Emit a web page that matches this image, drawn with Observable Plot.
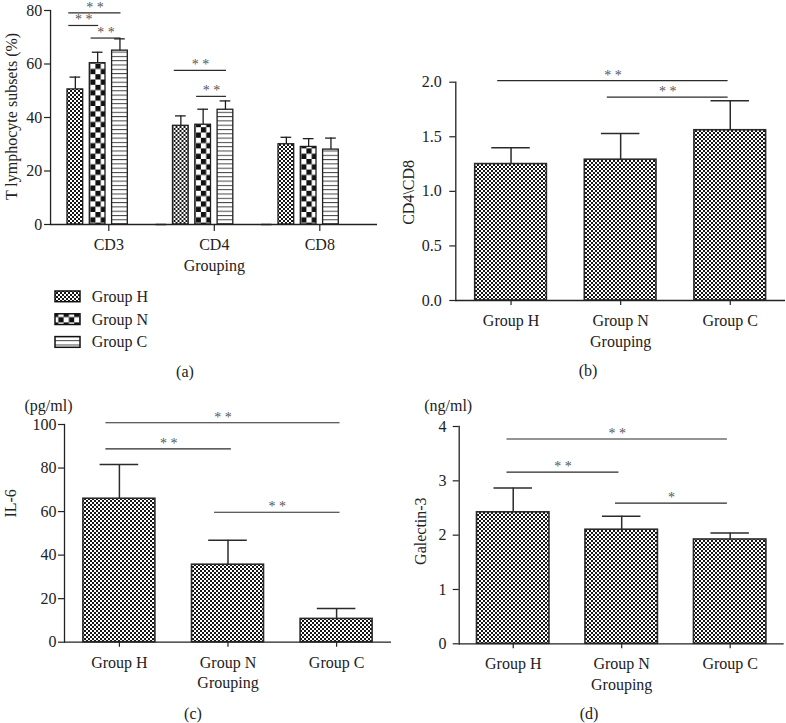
<!DOCTYPE html>
<html>
<head>
<meta charset="utf-8">
<script src="https://cdn.jsdelivr.net/npm/d3@7"></script>
<script src="https://cdn.jsdelivr.net/npm/@observablehq/plot@0.6"></script>
<style>
  body { margin: 0; background: #fff; }
  #root { position: relative; width: 786px; height: 723px; font-family: "Liberation Serif", serif; color: #222; overflow: hidden; }
  .panel { position: absolute; }
  .cap { position: absolute; font-size: 16px; line-height: 16px; transform: translateX(-50%); white-space: nowrap; }
</style>
</head>
<body>
<svg width="0" height="0" style="position:absolute">
  <defs>
    <pattern id="pH" width="4" height="4" patternUnits="userSpaceOnUse">
      <rect width="4" height="4" fill="#fff"/>
      <rect width="2" height="2" fill="#161616"/>
      <rect x="2" y="2" width="2" height="2" fill="#161616"/>
    </pattern>
    <pattern id="pN" width="10.6" height="10.6" patternUnits="userSpaceOnUse">
      <rect width="10.6" height="10.6" fill="#fff"/>
      <rect width="5.3" height="5.3" fill="#111"/>
      <rect x="5.3" y="5.3" width="5.3" height="5.3" fill="#111"/>
    </pattern>
    <pattern id="pC" width="4.3" height="4.3" patternUnits="userSpaceOnUse">
      <rect width="4.3" height="4.3" fill="#fff"/>
      <rect y="0" width="4.3" height="1" fill="#444"/>
    </pattern>
  </defs>
</svg>
<div id="root"></div>
<script>
// ---------------- data ----------------
const groups = ["Group H", "Group N", "Group C"];
const subsets = ["CD3", "CD4", "CD8"];

const cd3Mean = [50.5, 60.3, 65.0], cd3Sd = [4.6, 4.1, 4.4];
const cd4Mean = [36.9, 37.3, 42.9], cd4Sd = [3.7, 5.8, 3.3];
const cd8Mean = [30.0, 29.0, 28.0], cd8Sd = [2.6, 3.1, 4.3];

const ratioMean = [1.25, 1.29, 1.56], ratioSd = [0.15, 0.24, 0.27];
const il6Mean = [65.9, 35.6, 10.7], il6Sd = [15.7, 11.2, 4.8];
const galMean = [2.42, 2.10, 1.92], galSd = [0.45, 0.25, 0.12];

const tTicks = [0, 20, 40, 60, 80];
const ratioTicks = [0, 0.5, 1.0, 1.5, 2.0];
const il6Ticks = [0, 20, 40, 60, 80, 100];
const galTicks = [0, 1, 2, 3, 4];

const tBrackets = [
  {subset: "CD3", from: "Group H", to: "Group C", y: 79.1, sig: "**"},
  {subset: "CD3", from: "Group H", to: "Group N", y: 74.4, sig: "**"},
  {subset: "CD3", from: "Group N", to: "Group C", y: 69.7, sig: "**"},
  {subset: "CD4", from: "Group H", to: "Group C", y: 57.6, sig: "**"},
  {subset: "CD4", from: "Group N", to: "Group C", y: 47.9, sig: "**"}
];
const ratioBrackets = [
  {from: "Group H", to: "Group C", y: 2.015, sig: "**"},
  {from: "Group N", to: "Group C", y: 1.863, sig: "**"}
];
const il6Brackets = [
  {from: "Group H", to: "Group C", y: 100.8, sig: "**"},
  {from: "Group H", to: "Group N", y: 88.8, sig: "**"},
  {from: "Group N", to: "Group C", y: 59.7, sig: "**"}
];
const galBrackets = [
  {from: "Group H", to: "Group C", y: 3.77, sig: "**"},
  {from: "Group H", to: "Group N", y: 3.16, sig: "**"},
  {from: "Group N", to: "Group C", y: 2.59, sig: "*"}
];

const groupFills = ["url(#pH)", "url(#pN)", "url(#pC)"];

// ---------------- helpers ----------------
const INK = "#222";
const FONT = '"Liberation Serif", "Times New Roman", serif';
const root = document.getElementById("root");

function place(node, left, top) {
  const d = document.createElement("div");
  d.className = "panel";
  d.style.left = left + "px";
  d.style.top = top + "px";
  d.appendChild(node);
  root.appendChild(d);
}
function caption(text, cx, baseline) {
  const d = document.createElement("div");
  d.className = "cap";
  d.textContent = text;
  d.style.left = cx + "px";
  d.style.top = (baseline - 13.4) + "px";
  root.appendChild(d);
}
const starText = (d) => d.sig.split("").join(" ");
function starMarks(brackets, step, iL, iR, extra = {}) {
  return brackets.map((b) => Plot.text([b], {
    ...extra,
    x: "from", y: "y", text: starText,
    dx: ((groups.indexOf(b.to) - groups.indexOf(b.from)) * step + iL - iR) / 2,
    dy: -1, lineAnchor: "bottom", fontSize: 14, fill: "#555"
  }));
}
const svgStyle = {fontFamily: FONT, fontSize: "16px", color: INK, background: "transparent", overflow: "visible"};

// ---------------- panel (a) ----------------
const tMeans = [cd3Mean, cd4Mean, cd8Mean];
const tSds = [cd3Sd, cd4Sd, cd8Sd];
const tData = subsets.flatMap((s, i) => groups.map((g, j) => ({subset: s, group: g, mean: tMeans[i][j], sd: tSds[i][j]})));

{
  const W = 393, mL = 55.55, mR = 20.95;
  const pi = 0.296, po = 0.513;
  const slots = [...groups, " "];
  const facetW = (W - mL - mR) / subsets.length;
  const step = facetW / (slots.length - pi + 2 * po);
  const iL = 1.3, iR = 6.8;
  const chart = Plot.plot({
    width: W, height: 282,
    marginTop: 10, marginBottom: 58, marginLeft: mL, marginRight: mR,
    style: svgStyle,
    fx: {domain: subsets, paddingInner: 0, paddingOuter: 0, round: false, label: null},
    x: {domain: slots, paddingInner: pi, paddingOuter: po, round: false, axis: null},
    y: {domain: [0, 80], label: null},
    color: {domain: groups, range: groupFills},
    marks: [
      Plot.barY(tData, {fx: "subset", x: "group", y: "mean", fill: "group", stroke: "#1e1e1e", strokeWidth: 1.3}),
      Plot.ruleX(tData, {fx: "subset", x: "group", y1: "mean", y2: (d) => d.mean + d.sd, stroke: "#1e1e1e", strokeWidth: 1.3}),
      Plot.tickY(tData, {fx: "subset", x: "group", y: (d) => d.mean + d.sd, insetLeft: 2.5, insetRight: 2.5, stroke: "#1e1e1e", strokeWidth: 1.3}),
      Plot.ruleY([0], {insetLeft: -5.5, insetRight: -5, stroke: INK, strokeWidth: 1.3}),
      Plot.frame({anchor: "left", dx: -5.5, facetAnchor: "left", stroke: INK, strokeWidth: 1.3}),
      Plot.axisY({ticks: tTicks, tickSize: 6, tickPadding: 2.3, dx: -5.5, label: null, fontSize: 16, strokeWidth: 1.2}),
      Plot.axisFx({anchor: "bottom", tickSize: 7, tickPadding: 7, label: null, fontSize: 16, strokeWidth: 1.2}),
      Plot.ruleY(tBrackets, {fx: "subset", x1: "from", x2: "to", y: "y", insetLeft: iL, insetRight: iR, stroke: "#2a2a2a", strokeWidth: 1.2}),
      ...starMarks(tBrackets, step, iL, iR, {fx: "subset"}),
      Plot.text([{subset: "CD4", t: "Grouping"}], {fx: "subset", text: "t", frameAnchor: "bottom", dy: 46, lineAnchor: "bottom", fontSize: 16, fill: INK}),
      Plot.text([{subset: "CD3", t: "T lymphocyte subsets (%)"}], {fx: "subset", text: "t", frameAnchor: "left", rotate: -90, dx: -44.5, dy: -1, lineAnchor: "middle", textAnchor: "middle", fontSize: 16, fill: INK})
    ]
  });
  place(chart, 0, 0);

  // legend
  const leg = d3.create("svg").attr("width", 393).attr("height", 80)
    .style("font-family", FONT).style("font-size", "16px").style("overflow", "visible");
  groups.forEach((g, i) => {
    const base = 21.7 + i * 22.8;
    leg.append("rect").attr("x", 55).attr("y", base - 10.7).attr("width", 25).attr("height", 10.7)
      .attr("fill", groupFills[i]).attr("stroke", "#111").attr("stroke-width", 1.5);
    leg.append("text").attr("x", 91.7).attr("y", base).attr("fill", INK).text(g);
  });
  place(leg.node(), 0, 280);
  caption("(a)", 185, 377.5);
}

// ---------------- simple panels (b), (c), (d) ----------------
function simplePanel(o) {
  const data = groups.map((g, j) => ({group: g, mean: o.means[j], sd: o.sds[j]}));
  const W = 393;
  const step = (W - o.mL - o.mR) / (groups.length - o.pi + 2 * o.po);
  const marks = [
    Plot.barY(data, {x: "group", y: "mean", fill: "url(#pH)", stroke: "#2b2b2b", strokeWidth: 1.6}),
    Plot.ruleX(data, {x: "group", y1: "mean", y2: (d) => d.mean + d.sd, stroke: "#2b2b2b", strokeWidth: 1.5}),
    Plot.tickY(data, {x: "group", y: (d) => d.mean + d.sd, insetLeft: o.capInset, insetRight: o.capInset, stroke: "#2b2b2b", strokeWidth: 1.5}),
    Plot.ruleY([0], {stroke: INK, strokeWidth: 1.3}),
    Plot.frame({anchor: "left", stroke: INK, strokeWidth: 1.3}),
    Plot.axisX({tickSize: 5, tickPadding: 9, label: null, fontSize: 16, strokeWidth: 1.2}),
    Plot.axisY({ticks: o.ticks, tickFormat: o.tickFormat, tickSize: 6, tickPadding: o.tickPadding, label: null, fontSize: 16, strokeWidth: 1.2}),
    Plot.ruleY(o.brackets, {x1: "from", x2: "to", y: "y", insetLeft: o.iL, insetRight: o.iR, stroke: "#2a2a2a", strokeWidth: 1.2}),
    ...starMarks(o.brackets, step, o.iL, o.iR),
    Plot.text(["Grouping"], {frameAnchor: "bottom", dy: 46, lineAnchor: "bottom", fontSize: 16, fill: INK}),
    Plot.text([o.yLabel], {frameAnchor: "left", rotate: -90, dx: o.yDx, dy: o.yDy, lineAnchor: "middle", textAnchor: "middle", fontSize: 16, fill: INK})
  ];
  if (o.unit) marks.push(Plot.text([o.unit], {frameAnchor: "top-left", dx: o.uDx, dy: o.uDy, lineAnchor: "middle", textAnchor: "middle", fontSize: 16, fill: INK}));
  return Plot.plot({
    width: W, height: o.height,
    marginTop: o.mT, marginBottom: o.mB, marginLeft: o.mL, marginRight: o.mR,
    style: svgStyle,
    x: {domain: groups, paddingInner: o.pi, paddingOuter: o.po, round: false, label: null},
    y: {domain: o.domain, label: null},
    marks
  });
}

place(simplePanel({
  means: ratioMean, sds: ratioSd, brackets: ratioBrackets, domain: [0, 2], ticks: ratioTicks, tickFormat: ".1f",
  height: 355, mT: 81.7, mB: 55, mL: 62.3, mR: 1, pi: 0.346, po: 0.177,
  tickPadding: 8, capInset: 16.6, iL: 22.5, iR: 38,
  yLabel: "CD4\\CD8", yDx: -47, yDy: 1
}), 393, 0);
caption("(b)", 588, 376);

place(simplePanel({
  means: il6Mean, sds: il6Sd, brackets: il6Brackets, domain: [0, 100], ticks: il6Ticks, tickFormat: "d",
  height: 305, mT: 34, mB: 53.3, mL: 64, mR: 2, pi: 0.337, po: 0.174,
  tickPadding: 2, capInset: 16.7, iL: 22.5, iR: 32.6,
  yLabel: "IL-6", yDx: -54, yDy: -30,
  unit: "(pg/ml)", uDx: -16, uDy: -19
}), 0, 390);
caption("(c)", 193, 719);

place(simplePanel({
  means: galMean, sds: galSd, brackets: galBrackets, domain: [0, 4], ticks: galTicks, tickFormat: "d",
  height: 305, mT: 36, mB: 51.7, mL: 65.7, mR: 2.3, pi: 0.332, po: 0.164,
  tickPadding: 6.7, capInset: 17, iL: 30, iR: 39,
  yLabel: "Galectin-3", yDx: -38.7, yDy: -4,
  unit: "(ng/ml)", uDx: -11, uDy: -21
}), 393, 390);
caption("(d)", 589, 719);
</script>
</body>
</html>
